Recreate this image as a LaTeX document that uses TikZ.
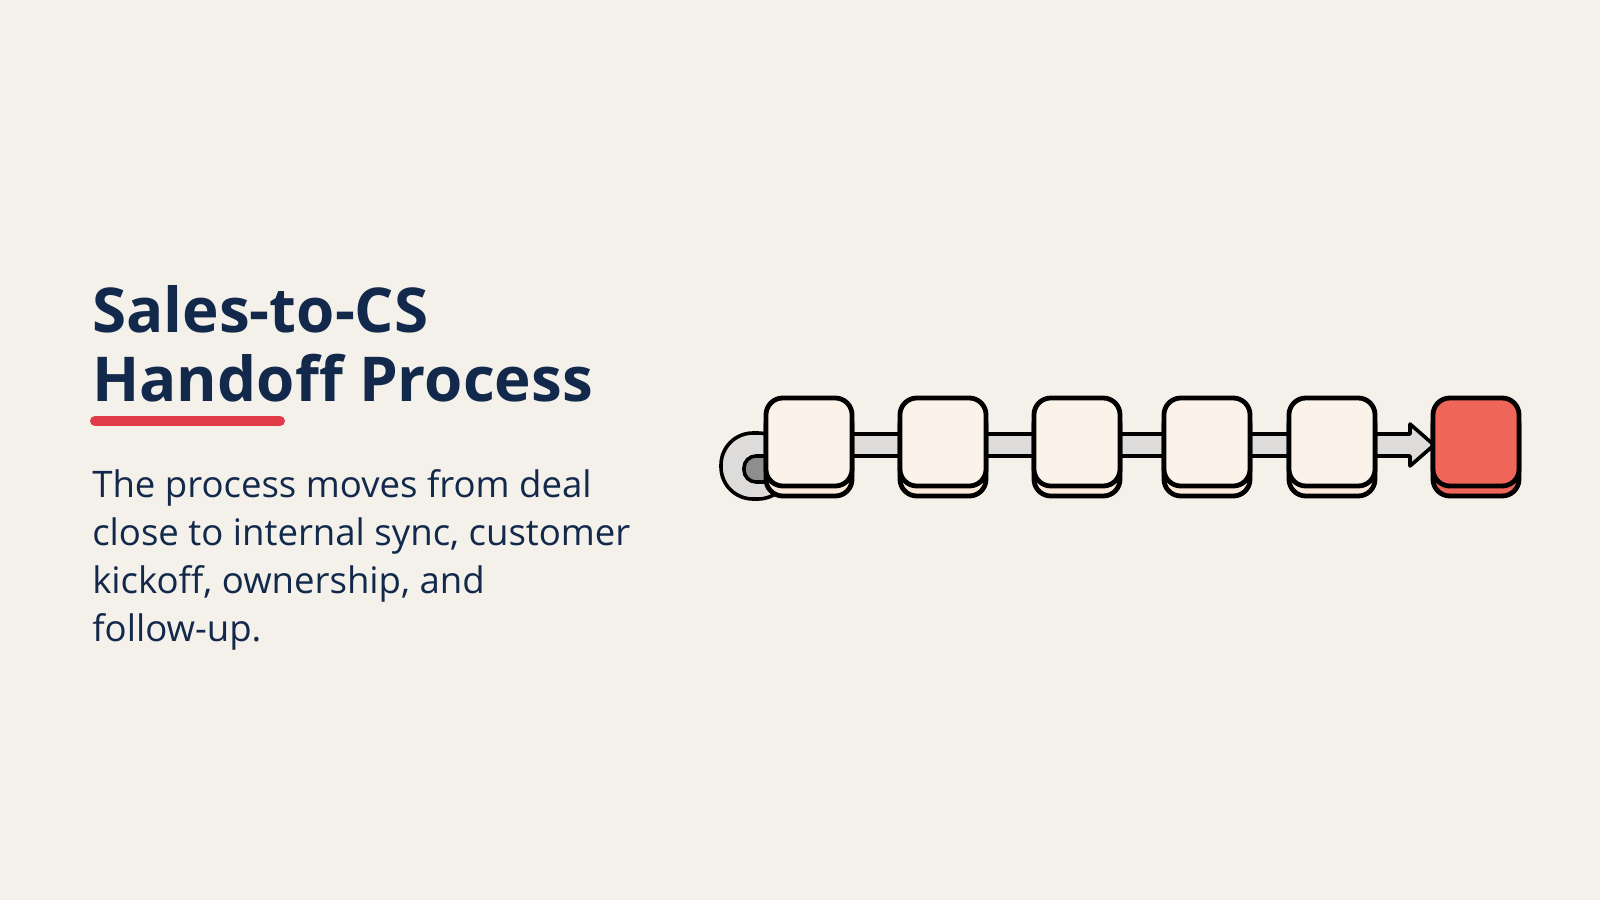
\documentclass[tikz,border=0pt]{standalone}
\usepackage{fontspec}
\setmainfont{Open Sans}
\definecolor{bgc}{HTML}{F4F0EA}
\definecolor{navy}{HTML}{13294B}
\definecolor{accent}{HTML}{E23A48}
\definecolor{boxc}{HTML}{FBF3EA}
\definecolor{boxlow}{HTML}{FBEADB}
\definecolor{hot}{HTML}{F0655A}
\definecolor{bar}{HTML}{DEDCDA}
\definecolor{bardark}{HTML}{8E8E8E}
\tikzset{
  stage/.style={draw=black, line width=1.2mm, rounded corners=0.42cm, fill=boxc, minimum width=2.15cm, minimum height=2.2cm, inner sep=0pt},
  stagebase/.style={stage, fill=boxlow},
  txt/.style={anchor=base west, inner sep=0pt, text=navy}
}
\begin{document}
\begin{tikzpicture}[x=0.025cm, y=-0.025cm]
  \fill[bgc] (0,0) rectangle (1600,900);
  \useasboundingbox (0,0) rectangle (1600,900);

  % title and text
  \node[txt, font=\fontsize{44}{50}\selectfont\bfseries] (title1) at (92,332) {Sales-to-CS};
  \node[txt, font=\fontsize{44}{50}\selectfont\bfseries] (title2) at (92,401) {Handoff Process};
  \draw[accent, line width=0.25cm, line cap=round] (95,421) -- (280,421);
  \def\bodyfont{\fontsize{26}{30}\selectfont}
  \node[txt, font=\bodyfont] (l1) at (92,497) {The process moves from deal};
  \node[txt, font=\bodyfont] (l2) at (92,545) {close to internal sync, customer};
  \node[txt, font=\bodyfont] (l3) at (92,593) {kickoff, ownership, and};
  \node[txt, font=\bodyfont] (l4) at (92,641) {follow-up.};

  % loop and bar
  \filldraw[fill=bar, draw=black, line width=0.9mm, rounded corners=0.8cm]
    (790,433) -- (721,433) -- (721,499) -- (790,499) -- cycle;
  \filldraw[fill=bardark, draw=black, line width=0.9mm, rounded corners=0.3cm]
    (800,456) -- (744,456) -- (744,482) -- (800,482) -- cycle;
  \filldraw[fill=bar, draw=black, line width=0.9mm, line join=round]
    (790,434) -- (1410,434) -- (1410,424) -- (1434,445) -- (1410,466)
    -- (1410,456) -- (790,456) -- cycle;

  % stages
  \foreach \i/\x in {1/809,2/943,3/1077,4/1207,5/1332}{
    \node[stagebase] (b\i) at (\x,452) {};
    \node[stage] (s\i) at (\x,442) {};
  }
  \node[stagebase, fill=hot] (b6) at (1476,452) {};
  \node[stage, fill=hot] (s6) at (1476,442) {};
\end{tikzpicture}
\end{document}
